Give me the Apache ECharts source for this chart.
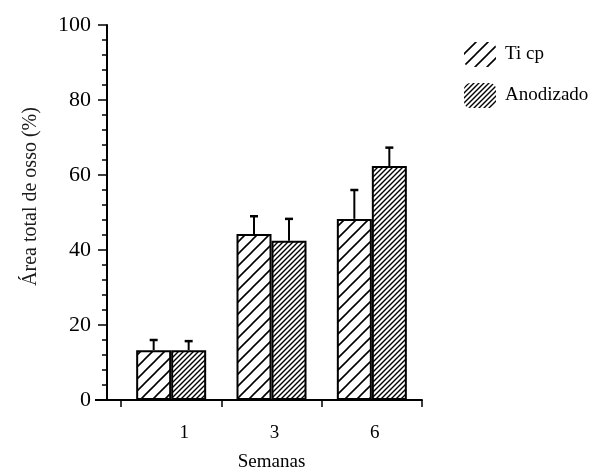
<!DOCTYPE html>
<html><head><meta charset="utf-8">
<script src="https://cdn.jsdelivr.net/npm/echarts@6/dist/echarts.min.js"></script>
<style>html,body{margin:0;padding:0;background:#fff}#c{width:601px;height:473px}</style>
</head><body><div id="c"></div>
<script>
var categories = ['1', '3', '6'];
var seriesNames = ['Ti cp', 'Anodizado'];
var tiMean = [13.3, 44.3, 48.3];
var tiErr = [2.7, 4.7, 7.7];
var anMean = [13.3, 42.5, 62.4];
var anErr = [2.4, 5.8, 4.9];
var yTicks = [0, 20, 40, 60, 80, 100];

function hatch(step, lw) {
  var c = document.createElement('canvas');
  c.width = step; c.height = step;
  var g = c.getContext('2d');
  g.fillStyle = '#fff'; g.fillRect(0, 0, step, step);
  g.strokeStyle = '#000'; g.lineWidth = lw; g.lineCap = 'square';
  g.beginPath();
  g.moveTo(0, step); g.lineTo(step, 0);
  g.moveTo(-2, 2); g.lineTo(2, -2);
  g.moveTo(step - 2, step + 2); g.lineTo(step + 2, step - 2);
  g.stroke();
  return c;
}
var sparse = hatch(12, 1.6);
var dense = hatch(5, 1.4);
var BW = 35;
var font = '"Liberation Serif", "Times New Roman", serif';

function errSeries(means, errs, dir) {
  return {
    type: 'custom',
    data: means.map(function (m, i) { return [i, m, m + errs[i]]; }),
    z: 5,
    silent: true,
    renderItem: function (params, api) {
      var top = api.coord([api.value(0), api.value(2)]);
      var bot = api.coord([api.value(0), api.value(1)]);
      var x = top[0] + dir * BW / 2;
      return {
        type: 'group',
        children: [
          { type: 'line', shape: { x1: x, y1: bot[1], x2: x, y2: top[1] }, style: { stroke: '#000', lineWidth: 2 } },
          { type: 'line', shape: { x1: x - 4, y1: top[1], x2: x + 4, y2: top[1] }, style: { stroke: '#000', lineWidth: 2.5 } }
        ]
      };
    }
  };
}

var chart = echarts.init(document.getElementById('c'));
chart.setOption({
  animation: false,
  backgroundColor: '#fff',
  grid: { left: 121, right: 179, top: 25, bottom: 73, containLabel: false, outerBoundsMode: 'none' },
  legend: {
    orient: 'vertical', left: 459, top: 37, itemWidth: 32, itemHeight: 25, itemGap: 16,
    data: seriesNames,
    itemStyle: { borderWidth: 0 },
    textStyle: { fontFamily: font, fontSize: 19, color: '#000', padding: [0, 0, 0, 4] }
  },
  xAxis: {
    type: 'category', data: categories,
    name: 'Semanas', nameLocation: 'middle', nameGap: 53,
    nameTextStyle: { fontFamily: font, fontSize: 19, color: '#000' },
    axisLine: { lineStyle: { color: '#000', width: 2 } },
    axisTick: { show: true, length: 7, lineStyle: { color: '#000', width: 1.5 } },
    axisLabel: {
      margin: 24,
      formatter: function (v) { return '{' + (v === '1' ? 'a' : 'b') + '|' + v + '}'; },
      rich: {
        a: { fontFamily: font, fontSize: 19, color: '#000', padding: [0, 0, 0, 26] },
        b: { fontFamily: font, fontSize: 19, color: '#000', padding: [0, 0, 0, 6] }
      }
    }
  },
  yAxis: {
    type: 'value', min: yTicks[0], max: yTicks[yTicks.length - 1], interval: 20,
    offset: 14,
    name: 'Área total de osso (%)', nameLocation: 'middle', nameGap: 66,
    nameTextStyle: { fontFamily: font, fontSize: 20, color: '#1a1a1a', padding: [0, 0, 0, 32] },
    axisLine: { show: true, lineStyle: { color: '#000', width: 2 } },
    axisTick: { show: true, length: 9, lineStyle: { color: '#000', width: 1.5 } },
    minorTick: { show: true, splitNumber: 5, length: 5, lineStyle: { color: '#000', width: 1.5 } },
    splitLine: { show: false },
    axisLabel: { margin: 16, fontFamily: font, fontSize: 22, color: '#000' }
  },
  series: [
    { name: seriesNames[0], type: 'bar', data: tiMean, barWidth: BW, barGap: '0%',
      itemStyle: { color: { image: sparse, repeat: 'repeat' }, borderColor: '#000', borderWidth: 2 } },
    { name: seriesNames[1], type: 'bar', data: anMean, barWidth: BW, barGap: '0%',
      itemStyle: { color: { image: dense, repeat: 'repeat' }, borderColor: '#000', borderWidth: 2 } },
    errSeries(tiMean, tiErr, -1),
    errSeries(anMean, anErr, 1)
  ]
});
// extend baseline leftwards past the y-axis, as in the reference
var y0 = chart.convertToPixel({ yAxisIndex: 0 }, 0);
chart.setOption({ graphic: [{ type: 'line', shape: { x1: 95, y1: y0, x2: 122, y2: y0 }, style: { stroke: '#000', lineWidth: 2 }, z: 10 }] });
</script></body></html>
